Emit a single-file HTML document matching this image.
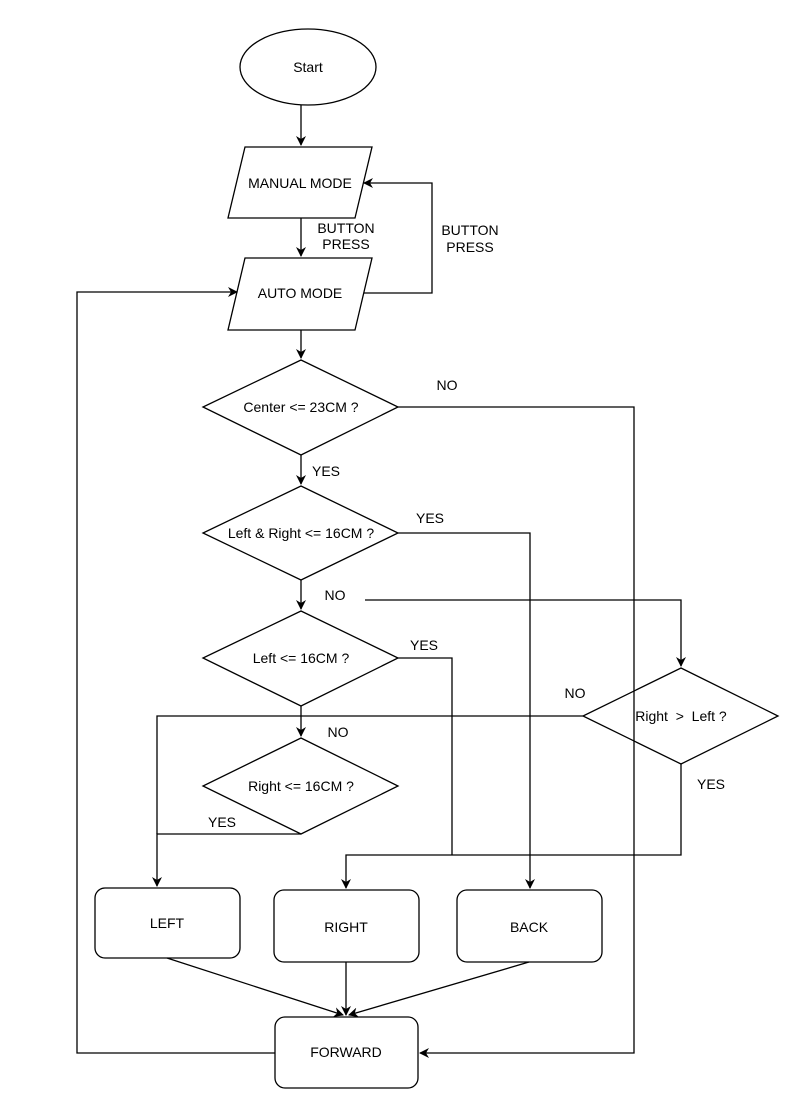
<!DOCTYPE html>
<html><head><meta charset="utf-8"><style>
html,body{margin:0;padding:0;background:#fff;}
svg{display:block;}
text{font-family:"Liberation Sans",Arial,sans-serif;font-size:14px;fill:#000;}
</style></head><body>
<svg width="789" height="1118" viewBox="0 0 789 1118" xmlns="http://www.w3.org/2000/svg">
<defs><marker id="a" markerWidth="10" markerHeight="10" refX="9" refY="5" orient="auto" markerUnits="userSpaceOnUse"><path d="M0,0 L10,5 L0,10 L3,5 Z" fill="#000"/></marker></defs>
<g fill="#fff" stroke="#000" stroke-width="1.3">
<ellipse cx="308" cy="67" rx="68" ry="38"/>
<polygon points="245,147 372,147 355,218 228,218"/>
<polygon points="245,258 372,258 355,330 228,330"/>
<polygon points="301,360 398,407 301,455 203,407"/>
<polygon points="301,486 398,533 301,580 203,533"/>
<polygon points="301,611 398,658 301,706 203,658"/>
<polygon points="301,738 398,786 301,834 203,786"/>
<polygon points="681,668 778,716 681,764 583,716"/>
<rect x="95" y="888" width="145" height="70" rx="10"/>
<rect x="274" y="890" width="145" height="72" rx="10"/>
<rect x="457" y="890" width="145" height="72" rx="10"/>
<rect x="275" y="1017" width="143" height="71" rx="10"/>
</g>
<g fill="none" stroke="#000" stroke-width="1.3">
<path d="M301,105 V145" marker-end="url(#a)"/>
<path d="M301,218 V256" marker-end="url(#a)"/>
<path d="M364,293 H432 V183 H364" marker-end="url(#a)"/>
<path d="M275,1053 H77 V292 H237" marker-end="url(#a)"/>
<path d="M301,330 V358" marker-end="url(#a)"/>
<path d="M398,407 H634 V1053 H420" marker-end="url(#a)"/>
<path d="M301,455 V484" marker-end="url(#a)"/>
<path d="M398,533 H530 V888" marker-end="url(#a)"/>
<path d="M301,580 V609" marker-end="url(#a)"/>
<path d="M365,600 H681 V666" marker-end="url(#a)"/>
<path d="M398,658 H452 V855"/>
<path d="M301,706 V736" marker-end="url(#a)"/>
<path d="M301,834 H157 V886" marker-end="url(#a)"/>
<path d="M583,716 H157 V834"/>
<path d="M681,764 V855 H346 V888" marker-end="url(#a)"/>
<path d="M167,958 L343,1015" marker-end="url(#a)"/>
<path d="M346,962 V1015" marker-end="url(#a)"/>
<path d="M529,962 L349,1015" marker-end="url(#a)"/>
</g>
<g text-anchor="middle">
<text x="308" y="72">Start</text>
<text x="300" y="188">MANUAL MODE</text>
<text x="300" y="298">AUTO MODE</text>
<text x="301" y="412">Center &lt;= 23CM ?</text>
<text x="301" y="538">Left &amp; Right &lt;= 16CM ?</text>
<text x="301" y="663">Left &lt;= 16CM ?</text>
<text x="301" y="791">Right &lt;= 16CM ?</text>
<text x="681" y="721">Right &#160;&gt; &#160;Left ?</text>
<text x="167" y="928">LEFT</text>
<text x="346" y="932">RIGHT</text>
<text x="529" y="932">BACK</text>
<text x="346" y="1057">FORWARD</text>
<text x="346" y="233">BUTTON</text>
<text x="346" y="249">PRESS</text>
<text x="470" y="235">BUTTON</text>
<text x="470" y="252">PRESS</text>
<text x="447" y="390">NO</text>
<text x="326" y="476">YES</text>
<text x="430" y="523">YES</text>
<text x="335" y="600">NO</text>
<text x="424" y="650">YES</text>
<text x="575" y="698">NO</text>
<text x="338" y="737">NO</text>
<text x="222" y="827">YES</text>
<text x="711" y="789">YES</text>
</g>
</svg>
</body></html>
